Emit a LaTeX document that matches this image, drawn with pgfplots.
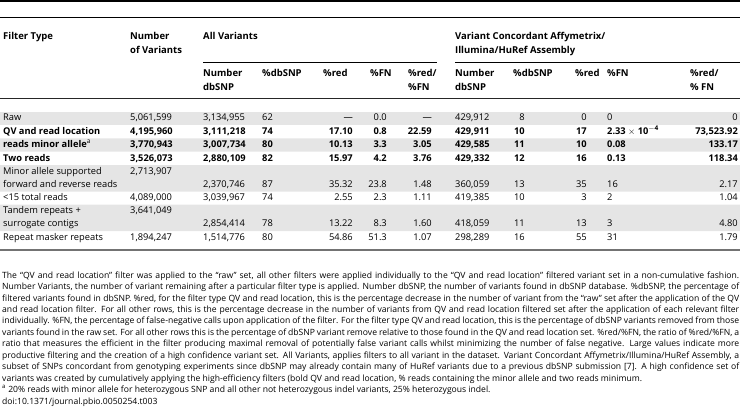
\documentclass[border=0pt]{standalone}
\usepackage{pgfplots}
\pgfplotsset{compat=1.18}
\usepackage{pgfplotstable}
\usepackage{fontspec}
\setmainfont{Open Sans}
\newcommand\tfont{\fontsize{9.3}{11}\selectfont}
\newcommand\hfont{\fontsize{9.5}{11}\selectfont\bfseries}
\newcommand\cfont{\fontsize{8.6}{10}\selectfont}
\begin{document}
\pgfplotstableread[col sep=semicolon]{
y;ft;nv;ndb;pdb;red;fn;rf;vnd;vpdb;vred;vfn;vrf
118;Raw;5,061,599;3,134,955;62;—;0.0;—;429,912;8;0;0;0
131.5;\textbf{QV and read location};\textbf{4,195,960};\textbf{3,111,218};\textbf{74};\textbf{17.10};\textbf{0.8};\textbf{22.59};\textbf{429,911};\textbf{10};\textbf{17};\textbf{2.33} $\times$ \textbf{10}\textsuperscript{$-$\textbf{4}};\textbf{73,523.92}
145;\textbf{reads minor allele}\textsuperscript{a};\textbf{3,770,943};\textbf{3,007,734};\textbf{80};\textbf{10.13};\textbf{3.3};\textbf{3.05};\textbf{429,585};\textbf{11};\textbf{10};\textbf{0.08};\textbf{133.17}
158.5;\textbf{Two reads};\textbf{3,526,073};\textbf{2,880,109};\textbf{82};\textbf{15.97};\textbf{4.2};\textbf{3.76};\textbf{429,332};\textbf{12};\textbf{16};\textbf{0.13};\textbf{118.34}
171.5;Minor allele supported;2,713,907;{};{};{};{};{};{};{};{};{};{}
185;forward and reverse reads;{};2,370,746;87;35.32;23.8;1.48;360,059;13;35;16;2.17
198;<15 total reads;4,089,000;3,039,967;74;2.55;2.3;1.11;419,385;10;3;2;1.04
211;Tandem repeats +;3,641,049;{};{};{};{};{};{};{};{};{};{}
224;surrogate contigs;{};2,854,414;78;13.22;8.3;1.60;418,059;11;13;3;4.80
237.5;Repeat masker repeats;1,894,247;1,514,776;80;54.86;51.3;1.07;298,289;16;55;31;1.79
}\tbl
\begin{tikzpicture}
\begin{axis}[width=740pt,height=413pt,scale only axis,
  xmin=0,xmax=740,ymin=0,ymax=413,y dir=reverse,hide axis,clip=false,
  tx/.style={draw=none,mark=none,nodes near coords,point meta=explicit symbolic,
    nodes near coords style={anchor=mid west,inner sep=0pt,font=\tfont,text=black}},
  tr/.style={tx,nodes near coords style={anchor=mid east}},
  band/.style={fill=black!10,draw=none,mark=none,forget plot}]
% shaded rows
\addplot[band] coordinates {(0,112) (740,112) (740,124.8) (0,124.8) (0,112)};
\addplot[band] coordinates {(0,138.4) (740,138.4) (740,151.6) (0,151.6) (0,138.4)};
\addplot[band] coordinates {(0,165) (740,165) (740,191.5) (0,191.5) (0,165)};
\addplot[band] coordinates {(0,204.6) (740,204.6) (740,231) (0,231) (0,204.6)};
% rules
\addplot[black,line width=1.6pt,mark=none] coordinates {(0,0.8) (740,0.8)};
\addplot[black,line width=0.8pt,mark=none] coordinates {(0,17) (740,17)};
\addplot[black,line width=0.8pt,mark=none] coordinates {(203,62) (437,62)};
\addplot[black,line width=0.8pt,mark=none] coordinates {(455,62) (740,62)};
\addplot[black!85,line width=0.9pt,mark=none] coordinates {(0,98) (740,98)};
\addplot[black!55,line width=2pt,mark=none] coordinates {(0,250) (740,250)};
% table body
\addplot[tx] table[x expr=3,y=y,meta=ft] {\tbl};
\addplot[tx] table[x expr=130,y=y,meta=nv] {\tbl};
\addplot[tx] table[x expr=203,y=y,meta=ndb] {\tbl};
\addplot[tx] table[x expr=262,y=y,meta=pdb] {\tbl};
\addplot[tr] table[x expr=353,y=y,meta=red] {\tbl};
\addplot[tr] table[x expr=387,y=y,meta=fn] {\tbl};
\addplot[tr] table[x expr=432,y=y,meta=rf] {\tbl};
\addplot[tx] table[x expr=455,y=y,meta=vnd] {\tbl};
\addplot[tr] table[x expr=525,y=y,meta=vpdb] {\tbl};
\addplot[tr] table[x expr=587,y=y,meta=vred] {\tbl};
\addplot[tx] table[x expr=607,y=y,meta=vfn] {\tbl};
\addplot[tr] table[x expr=738,y=y,meta=vrf] {\tbl};
% headers
\begin{scope}[every node/.style={anchor=mid west,inner sep=0pt,font=\hfont}]
\node at (axis cs:3,37) {Filter Type};
\node at (axis cs:130,37) {Number};
\node at (axis cs:130,51) {of Variants};
\node at (axis cs:203,37) {All Variants};
\node at (axis cs:455,37) {Variant Concordant Affymetrix/};
\node at (axis cs:455,51) {Illumina/HuRef Assembly};
\node at (axis cs:203,74) {Number};
\node at (axis cs:203,88) {dbSNP};
\node at (axis cs:262,74) {\%dbSNP};
\node at (axis cs:323,74) {\%red};
\node at (axis cs:370,74) {\%FN};
\node at (axis cs:408,74) {\%red/};
\node at (axis cs:408,88) {\%FN};
\node at (axis cs:455,74) {Number};
\node at (axis cs:455,88) {dbSNP};
\node at (axis cs:513,74) {\%dbSNP};
\node at (axis cs:575,74) {\%red};
\node at (axis cs:607,74) {\%FN};
\node at (axis cs:690,74) {\%red/};
\node at (axis cs:690,88) {\% FN};
\end{scope}
% caption
\begin{scope}[every node/.style={anchor=mid west,inner sep=0pt,font=\cfont}]
\node at (axis cs:2,275.5) {\hbox to 737pt{The “QV and read location” filter was applied to the “raw” set, all other filters were applied individually to the “QV and read location” filtered variant set in a non-cumulative fashion.}};
\node at (axis cs:2,286.95) {\hbox to 737pt{Number Variants, the number of variant remaining after a particular filter type is applied. Number dbSNP, the number of variants found in dbSNP database. \%dbSNP, the percentage of}};
\node at (axis cs:2,298.4) {\hbox to 737pt{filtered variants found in dbSNP. \%red, for the filter type QV and read location, this is the percentage decrease in the number of variant from the “raw” set after the application of the QV}};
\node at (axis cs:2,309.85) {\hbox to 737pt{and read location filter. For all other rows, this is the percentage decrease in the number of variants from QV and read location filtered set after the application of each relevant filter}};
\node at (axis cs:2,321.3) {\hbox to 737pt{individually. \%FN, the percentage of false-negative calls upon application of the filter. For the filter type QV and read location, this is the percentage of dbSNP variants removed from those}};
\node at (axis cs:2,332.75) {\hbox to 737pt{variants found in the raw set. For all other rows this is the percentage of dbSNP variant remove relative to those found in the QV and read location set. \%red/\%FN, the ratio of \%red/\%FN, a}};
\node at (axis cs:2,344.2) {\hbox to 737pt{ratio that measures the efficient in the filter producing maximal removal of potentially false variant calls whilst minimizing the number of false negative. Large values indicate more}};
\node at (axis cs:2,355.65) {\hbox to 737pt{productive filtering and the creation of a high confidence variant set. All Variants, applies filters to all variant in the dataset. Variant Concordant Affymetrix/Illumina/HuRef Assembly, a}};
\node at (axis cs:2,367.1) {\hbox to 737pt{subset of SNPs concordant from genotyping experiments since dbSNP may already contain many of HuRef variants due to a previous dbSNP submission [7]. A high confidence set of}};
\node at (axis cs:2,378.55) {variants was created by cumulatively applying the high-efficiency filters (bold QV and read location, \% reads containing the minor allele and two reads minimum.};
\node at (axis cs:2,390) {\textsuperscript{a} 20\% reads with minor allele for heterozygous SNP and all other not heterozygous indel variants, 25\% heterozygous indel.};
\node at (axis cs:2,401.45) {doi:10.1371/journal.pbio.0050254.t003};
\end{scope}
\end{axis}
\pgfresetboundingbox
\path (current axis.south west) rectangle (current axis.north east);
\end{tikzpicture}
\end{document}
